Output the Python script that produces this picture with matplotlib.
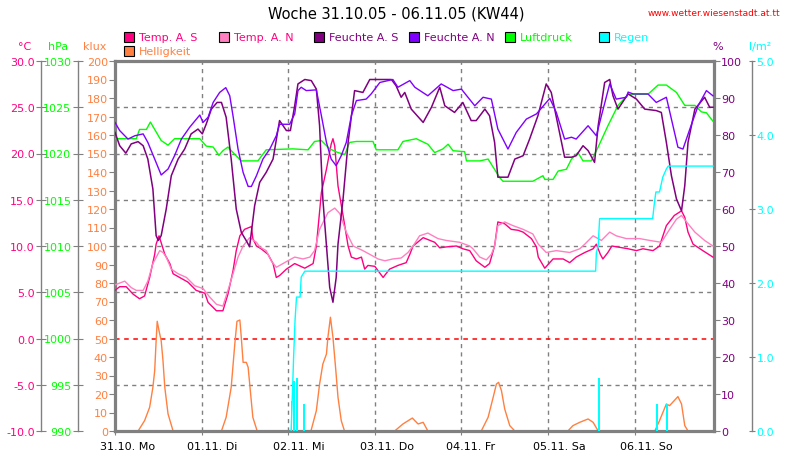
import matplotlib
matplotlib.use("Agg")
import matplotlib.pyplot as plt
import matplotlib.transforms as mtransforms
from matplotlib.patches import Rectangle
from matplotlib.ticker import FormatStrFormatter, MultipleLocator

# time axis in hours since 31.10. 00:00
DAY_HOURS = [0, 24, 48, 72, 96, 120, 144]
DAY_LABELS = ["31.10. Mo", "01.11. Di", "02.11. Mi", "03.11. Do",
              "04.11. Fr", "05.11. Sa", "06.11. So"]

# Temp. A. S (degC)
temp_s_t = [0, 1.3, 3.1, 5.0, 6.8, 8.2, 9.6, 11.0, 11.4, 12.2, 13.8, 15.2, 16.1, 17.9, 20.2,
            22.5, 24.9, 25.8, 27.6, 28.1, 29.9, 31.3, 32.7, 33.6, 34.6, 35.9, 37.8, 38.2, 39.2,
            40.5, 42.4, 43.8, 44.7, 45.6, 47.5, 49.8, 52.6, 54.9, 55.8, 57.2, 58.6, 59.9, 60.4,
            60.9, 61.8, 63.2, 64.6, 65.5, 66.9, 68.3, 69.2, 70.1, 72.0, 74.3, 76.1, 78.4, 80.7,
            81.7, 82.6, 85.4, 88.6, 90.0, 91.8, 94.6, 96.4, 98.3, 100.1, 102.5, 103.8, 105.2,
            106.1, 108.0, 109.8, 111.7, 113.1, 115.4, 116.8, 117.3, 119.1, 121.4, 124.2, 126.0,
            127.8, 130.2, 132.5, 133.4, 134.5, 135.2, 136.6, 137.7, 142.2, 144.5, 146.3, 149.1,
            150.9, 152.8, 155.0, 157.0, 157.9, 158.8, 160.2, 162.9, 165.7]
temp_s = [5.2, 5.6, 5.6, 4.8, 4.3, 4.6, 6.6, 9.1, 10.2, 11.1, 9.1, 8.1, 7.0, 6.6, 6.1,
          5.2, 4.9, 3.9, 3.2, 3.0, 3.0, 4.8, 7.3, 9.5, 11.1, 11.8, 12.1, 10.8, 10.0,
          9.7, 9.1, 8.1, 6.6, 6.8, 7.5, 8.1, 7.6, 8.1, 10.0, 15.8, 18.3, 21.0, 21.6,
          20.8, 16.5, 13.3, 10.0, 8.8, 8.6, 8.8, 7.5, 7.9, 7.8, 6.6, 7.5, 7.9, 8.2,
          9.1, 10.0, 10.9, 10.4, 9.8, 9.9, 10.0, 9.7, 9.5, 8.4, 7.7, 8.1, 10.0,
          12.6, 12.4, 11.8, 11.7, 11.5, 10.8, 9.9, 8.8, 7.6, 8.6, 8.6, 8.2,
          8.8, 9.3, 9.7, 10.2, 9.1, 8.6, 9.3, 10.0, 9.7, 9.5, 9.7, 9.5,
          10.0, 12.2, 13.3, 13.8, 13.1, 11.5, 10.2, 9.5, 8.8]

# Temp. A. N (degC)
temp_n_t = [0, 2.7, 4.5, 5.9, 7.8, 9.1, 10.5, 12.4, 13.3, 14.2, 15.6, 17.5, 19.8, 22.1, 24.4,
            26.2, 28.1, 29.9, 31.3, 32.7, 34.1, 35.5, 37.3, 39.2, 40.1, 41.9, 43.3, 44.7, 46.1,
            47.9, 49.8, 52.1, 54.0, 55.3, 56.7, 59.0, 60.9, 62.3, 64.1, 66.0, 68.7, 70.6, 72.9,
            74.8, 77.0, 79.3, 81.2, 82.6, 84.4, 86.7, 89.5, 91.8, 95.5, 98.3, 99.2, 101.1,
            102.9, 104.3, 105.2, 106.1, 108.0, 110.3, 113.1, 115.8, 117.3, 119.5, 122.3, 126.0,
            128.8, 130.2, 132.5, 134.8, 137.1, 138.9, 141.7, 145.4, 148.2, 151.4, 153.7, 155.6,
            157.0, 158.4, 160.7, 163.4, 165.7]
temp_n = [5.8, 6.2, 5.5, 5.2, 5.2, 6.2, 8.1, 9.5, 9.3, 8.8, 7.5, 7.0, 6.6, 5.7, 5.4,
          4.5, 3.7, 3.5, 5.2, 7.0, 8.8, 10.0, 10.9, 10.4, 9.9, 9.5, 8.4, 7.7, 8.0,
          8.4, 8.8, 8.6, 8.8, 9.5, 11.8, 13.6, 14.1, 13.5, 11.5, 10.0, 9.5, 9.1, 8.6,
          8.4, 8.6, 8.7, 9.3, 10.0, 11.1, 11.4, 10.8, 10.6, 10.4, 10.0, 9.7, 8.8,
          8.5, 9.1, 10.0, 12.2, 12.6, 12.2, 11.8, 11.3, 10.2, 9.3, 9.5, 9.3,
          9.7, 10.2, 11.1, 10.6, 11.5, 11.1, 10.8, 10.8, 10.6, 10.4, 11.8, 12.9,
          13.3, 12.6, 11.5, 10.6, 10.0]

# Feuchte A. S (%)
hum_s_t = [0, 1.3, 3.0, 4.5, 6.4, 7.8, 9.1, 10.5, 11.4, 12.0, 12.8, 14.2, 15.6, 17.5, 19.3,
           21.1, 23.0, 24.2, 25.3, 26.7, 28.3, 29.5, 30.8, 32.2, 33.6, 35.0, 36.4, 37.3, 38.7,
           40.1, 41.9, 43.8, 45.6, 47.5, 48.6, 49.8, 50.7, 52.6, 54.4, 55.8, 56.7, 57.6, 58.6,
           59.5, 60.4, 61.3, 61.8, 63.2, 64.6, 66.4, 68.7, 70.6, 76.6, 77.9, 79.3, 80.3, 82.1,
           85.4, 87.7, 90.0, 91.4, 94.1, 96.4, 98.7, 100.1, 102.5, 103.8, 105.2, 106.1, 108.9,
           110.8, 113.1, 114.9, 117.2, 119.5, 120.9, 122.8, 124.6, 126.5, 127.8, 129.7, 131.1,
           132.9, 133.9, 135.7, 137.1, 138.0, 139.4, 142.2, 144.5, 146.8, 150.0, 151.4, 152.8,
           154.2, 155.6, 157.0, 157.9, 158.8, 160.7, 163.4, 164.8, 165.7]
hum_s = [80.7, 77.1, 75.1, 77.6, 78.2, 77.1, 73.5, 65.4, 52.8, 51.5, 52.8, 60.0, 69.0, 73.5, 76.2,
         80.3, 81.6, 80.3, 83.0, 87.0, 88.8, 88.8, 84.8, 73.5, 60.0, 53.7, 51.4, 49.8, 60.9,
         67.2, 69.9, 73.5, 83.9, 81.2, 81.2, 87.9, 93.8, 95.0, 94.7, 92.4, 82.5, 62.7, 50.1,
         38.8, 34.8, 41.5, 50.5, 62.7, 78.0, 92.0, 91.5, 95.0, 95.0, 93.3, 90.2, 91.5, 87.0,
         83.4, 87.5, 92.9, 87.9, 86.1, 88.8, 83.9, 83.9, 87.0, 85.2, 78.0, 68.6, 68.6,
         73.5, 74.4, 78.9, 85.2, 93.8, 91.5, 82.5, 74.0, 74.0, 74.4, 77.1, 75.8,
         72.6, 82.5, 94.2, 95.0, 90.6, 87.0, 91.1, 89.7, 87.0, 86.6, 86.1, 78.0,
         69.0, 62.7, 59.5, 66.3, 78.0, 87.0, 90.2, 87.5, 87.5]

# Feuchte A. N (%)
hum_n_t = [0, 1.3, 3.6, 5.5, 7.8, 9.1, 11.0, 12.8, 14.7, 16.5, 18.4, 20.7, 23.5, 24.4, 25.8,
           27.2, 29.0, 30.7, 31.8, 32.7, 34.1, 35.5, 36.9, 37.8, 39.2, 41.0, 42.9, 44.7, 45.6,
           48.4, 49.8, 50.7, 51.6, 53.0, 55.8, 57.2, 58.6, 59.9, 61.3, 62.7, 64.1, 65.5, 66.9,
           69.6, 71.0, 73.4, 77.0, 78.4, 81.7, 83.1, 86.7, 90.4, 93.7, 96.0, 99.7, 102.0, 104.3,
           106.1, 108.9, 111.2, 114.0, 116.8, 120.5, 122.3, 124.6, 126.5, 127.8, 131.1, 133.4,
           134.8, 137.1, 138.9, 141.7, 142.2, 143.6, 147.7, 150.0, 152.8, 154.2, 156.0, 157.4,
           159.3, 161.6, 163.9, 165.7]
hum_n = [83.4, 81.2, 78.9, 79.8, 80.3, 78.0, 73.5, 69.2, 70.8, 74.4, 78.9, 82.1, 85.4, 83.4, 84.8,
         88.8, 91.5, 92.8, 90.6, 85.2, 76.2, 69.9, 66.1, 66.1, 69.0, 73.5, 76.2, 79.8, 82.9,
         82.9, 85.7, 92.0, 92.9, 92.0, 92.2, 85.2, 78.0, 73.5, 71.7, 74.4, 78.0, 85.2, 89.3,
         89.7, 91.1, 94.2, 95.0, 92.9, 94.7, 92.9, 90.6, 93.8, 92.0, 92.4, 87.9, 90.2, 89.7,
         81.6, 76.2, 80.7, 84.3, 85.7, 89.9, 86.1, 78.9, 79.4, 78.9, 82.5, 79.8,
         85.2, 93.8, 89.7, 90.2, 91.6, 91.1, 91.1, 88.8, 90.2, 84.3, 76.7, 76.2,
         81.6, 87.9, 92.0, 90.6]

# Luftdruck (hPa)
press_t = [0, 5.9, 6.8, 8.7, 9.8, 11.0, 12.8, 14.7, 16.5, 23.5, 25.3, 27.2, 28.8, 29.9, 31.3,
           33.2, 35.0, 39.6, 41.9, 49.3, 53.5, 55.3, 57.2, 59.5, 61.8, 63.7, 65.0, 66.9, 71.5,
           72.4, 78.4, 79.8, 83.5, 86.7, 88.6, 90.9, 92.3, 93.7, 96.9, 97.4, 101.1, 103.4, 106.6,
           107.5, 115.8, 118.6, 119.1, 121.4, 122.8, 125.1, 126.5, 128.3, 129.7, 132.0, 133.9,
           136.6, 139.4, 142.2, 147.7, 150.5, 152.8, 155.6, 157.9, 160.7, 162.5, 163.9, 165.7]
press = [1021.6, 1021.6, 1022.6, 1022.6, 1023.4, 1022.6, 1021.4, 1020.9, 1021.6, 1021.6, 1020.8,
         1020.7, 1019.8, 1020.3, 1020.7, 1019.9, 1019.2, 1019.2, 1020.4, 1020.5, 1020.4, 1021.3,
         1021.4, 1020.5, 1020.1, 1019.9, 1021.2, 1021.3, 1021.3, 1020.4, 1020.4, 1021.3, 1021.6,
         1021.0, 1020.1, 1020.5, 1021.0, 1020.3, 1020.2, 1019.2, 1019.2, 1019.4, 1017.4, 1017.0,
         1017.0, 1017.6, 1017.2, 1017.2, 1018.1, 1018.3, 1019.4, 1020.1, 1019.2, 1019.2, 1020.7,
         1023.0, 1025.2, 1026.4, 1026.4, 1027.4, 1027.4, 1026.6, 1025.2, 1025.2, 1024.5, 1024.4,
         1023.5]

# Regen, cumulative (l/m2)
rain_sum_t = [48.8, 49.1, 49.5, 49.9, 50.3, 51.3, 51.6, 52.6, 133.2, 133.4, 133.9, 134.3,
              149.0, 149.5, 149.9, 150.9, 151.8, 152.8, 153.3, 165.7]
rain_sum = [0.0, 0.4, 1.0, 1.5, 1.81, 1.81, 2.08, 2.16, 2.16, 2.41, 2.50, 2.87,
            2.87, 3.09, 3.23, 3.23, 3.43, 3.54, 3.58, 3.58]

# Regen, hourly amounts (l/m2)
rain_bar_t = [48.9, 49.6, 50.4, 52.3, 134.1, 150.2, 152.9]
rain_bar = [0.41, 0.68, 0.72, 0.36, 0.72, 0.36, 0.36]

# Helligkeit (klux)
lux_t = [0, 6.4, 8.2, 9.6, 10.5, 11.0, 11.4, 11.7, 12.2, 12.8, 13.3, 13.8, 14.7, 16.1,
         29.5, 30.8, 32.2, 33.2, 33.8, 34.6, 35.0, 35.5, 36.4, 36.9, 37.5, 38.2, 39.4,
         54.3, 55.8, 56.7, 57.6, 58.6, 59.0, 59.7, 60.4, 61.2, 61.8, 62.7, 63.6,
         77.5, 79.8, 82.4, 84.0, 85.4, 86.7,
         101.5, 103.4, 104.8, 105.7, 106.3, 107.1, 108.0, 109.4, 110.8,
         125.5, 126.9, 128.8, 131.1, 132.5, 133.9,
         149.6, 150.9, 152.8, 153.7, 156.0, 157.0, 157.9, 158.8, 165.7]
lux = [0, 0, 5.6, 12.8, 23.6, 32.6, 48.8, 59.3, 54.2, 48.8, 38.0, 23.6, 9.2, 0,
       0, 7.4, 23.6, 47.0, 59.3, 60.0, 50.6, 37.1, 37.1, 34.4, 21.8, 7.4, 0,
       0, 11.0, 25.4, 36.2, 41.6, 50.6, 61.5, 50.6, 32.6, 18.2, 5.6, 0,
       0, 3.8, 7.0, 3.8, 4.7, 0,
       0, 7.4, 18.2, 25.4, 26.3, 21.8, 11.9, 2.9, 0,
       0, 2.9, 4.7, 6.5, 4.7, 0,
       0, 5.6, 14.6, 13.7, 18.6, 14.6, 2.9, 0, 0]

GREY = "#808080"
C_TS, C_TN = "#ff0080", "#ff80c0"
C_HS, C_HN = "#800080", "#8000ff"
C_P, C_R, C_L = "#00ff00", "#00ffff", "#ff8040"

W, H = 790, 460
L, R, T, B = 115, 714, 62, 432


def fx(px):
    return px / W


def fy(py):
    return 1 - py / H


fig = plt.figure(figsize=(W / 100, H / 100), dpi=100)
fig.patch.set_facecolor("white")
ax = fig.add_axes([fx(L), fy(B), (R - L) / W, (B - T) / H])

# main (klux) axis + frame
ax.set_xlim(0, 166)
ax.set_ylim(0, 200)
for s in ax.spines.values():
    s.set_color(GREY)
    s.set_linewidth(2.3)
ax.yaxis.set_major_locator(MultipleLocator(10))
ax.tick_params(axis="y", colors=GREY, labelcolor=C_L, labelsize=8, length=4, width=0.8, pad=1)
ax.set_xticks(DAY_HOURS)
ax.set_xticklabels(DAY_LABELS, ha="left")
ax.tick_params(axis="x", colors=GREY, labelcolor="black", labelsize=8, length=3, width=0.8, pad=4)
shift = mtransforms.ScaledTranslation(-15 / 100, 0, fig.dpi_scale_trans)
for lab in ax.get_xticklabels():
    lab.set_transform(lab.get_transform() + shift)

dash = (0, (3, 3))
for h in DAY_HOURS[1:]:
    ax.axvline(h, color=GREY, lw=1.0, ls=dash, zorder=1)
for k in [25, 75, 100, 125, 150, 175]:
    ax.axhline(k, color=GREY, lw=1.0, ls=dash, zorder=1)
ax.axhline(50, color="#ff0000", lw=1.1, ls=dash, zorder=1)

ax.plot(lux_t, lux, color=C_L, lw=1.0)


def side_axis(side, pos, lo, hi, step, color, fmt, direction, length):
    a = ax.twinx()
    a.patch.set_visible(False)
    for s in a.spines.values():
        s.set_visible(False)
    if side == "left":
        a.yaxis.tick_left()
    sp = a.spines[side]
    if pos is not None:
        sp.set_visible(True)
        sp.set_position(("axes", pos))
        sp.set_color(GREY)
        sp.set_linewidth(1.0)
    a.set_ylim(lo, hi)
    a.yaxis.set_major_locator(MultipleLocator(step))
    a.yaxis.set_major_formatter(FormatStrFormatter(fmt))
    a.tick_params(axis="y", colors=GREY, labelcolor=color, labelsize=8,
                  length=length, width=0.8, direction=direction, pad=1)
    return a


ax_c = side_axis("left", (41 - L) / (R - L), -10, 30, 5, C_TS, "%.1f", "inout", 7)
ax_p = side_axis("left", (77.7 - L) / (R - L), 990, 1030, 5, C_P, "%d", "inout", 7)
ax_h = side_axis("right", None, 0, 100, 10, C_HS, "%d", "out", 4)
ax_r = side_axis("right", (751.7 - L) / (R - L), 0, 5, 1, C_R, "%.1f", "inout", 5)

ax_c.plot(temp_s_t, temp_s, color=C_TS, lw=1.0)
ax_c.plot(temp_n_t, temp_n, color=C_TN, lw=1.0)
ax_h.plot(hum_s_t, hum_s, color=C_HS, lw=1.1)
ax_h.plot(hum_n_t, hum_n, color=C_HN, lw=1.0)
ax_p.plot(press_t, press, color=C_P, lw=1.0)
ax_r.bar(rain_bar_t, rain_bar, width=0.45, color=C_R)
ax_r.plot(rain_sum_t, rain_sum, color=C_R, lw=1.0)

# titles and unit labels
fig.text(fx(396), fy(14), "Woche 31.10.05 - 06.11.05 (KW44)", ha="center", va="center", fontsize=10.5)
fig.text(fx(714), fy(13), "www.wetter.wiesenstadt.at.tt", ha="center", va="center",
         fontsize=6.5, color="red")
for x, txt, col in [(25, "°C", C_TS), (58, "hPa", C_P), (95, "klux", C_L),
                    (718, "%", C_HS), (760, "l/m²", C_R)]:
    fig.text(fx(x), fy(47), txt, ha="center", va="center", fontsize=8, color=col)

# legend
legend = [(124, 38, "Temp. A. S", C_TS, C_TS), (219, 38, "Temp. A. N", C_TN, C_TS),
          (314, 38, "Feuchte A. S", C_HS, C_HS), (409, 38, "Feuchte A. N", C_HN, C_HS),
          (505, 38, "Luftdruck", C_P, C_P), (599, 38, "Regen", C_R, C_R),
          (124, 52, "Helligkeit", C_L, C_L)]
for x, y, txt, fc, tc in legend:
    fig.add_artist(Rectangle((fx(x), fy(y + 5)), 10 / W, 10 / H, transform=fig.transFigure,
                             facecolor=fc, edgecolor="black", lw=0.8))
    fig.text(fx(x + 15), fy(y), txt, ha="left", va="center", fontsize=8, color=tc)

fig.savefig("out.png", dpi=100, facecolor="white")
